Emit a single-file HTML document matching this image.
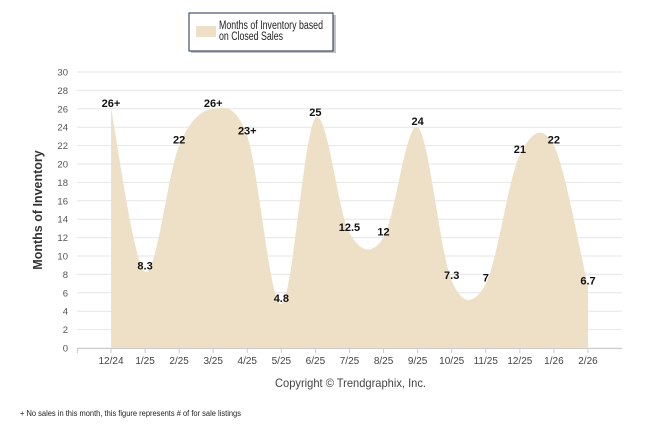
<!DOCTYPE html>
<html><head><meta charset="utf-8"><style>
body{margin:0;width:646px;height:434px;background:#fff;overflow:hidden;font-family:"Liberation Sans",sans-serif}
</style></head><body>
<svg id="c" width="646" height="434" xmlns="http://www.w3.org/2000/svg">
<g>
<rect x="191" y="15" width="145" height="38" fill="#888" opacity="0.5"/>
<rect x="189" y="13" width="144" height="38" fill="#fff" stroke="#1f2f4f" stroke-width="1"/>
<rect x="196" y="26" width="20" height="11" fill="#ede0c6"/>
<text x="219" y="29" font-size="11.5" fill="#222" textLength="104" lengthAdjust="spacingAndGlyphs">Months of Inventory based</text>
<text x="219" y="40" font-size="11.5" fill="#222" textLength="64" lengthAdjust="spacingAndGlyphs">on Closed Sales</text>
</g>
<g id="grid"></g><g id="area"></g><g id="labels"></g><g id="xaxis"></g>
<text transform="translate(42,210) rotate(-90)" text-anchor="middle" font-size="12.5" font-weight="bold" fill="#333">Months of Inventory</text>
<text x="275" y="387" font-size="12" fill="#444" textLength="151" lengthAdjust="spacingAndGlyphs">Copyright © Trendgraphix, Inc.</text>
<text x="20" y="416" font-size="8" fill="#222" textLength="221" lengthAdjust="spacingAndGlyphs">+  No sales in this month, this figure represents # of for sale listings</text>
</svg>
<script>
const categories=["12/24","1/25","2/25","3/25","4/25","5/25","6/25","7/25","8/25","9/25","10/25","11/25","12/25","1/26","2/26"];
const values=[26,8.3,22,26,23,4.8,25,12.5,12,24,7.3,7,21,22,6.7];
const valueLabels=["26+","8.3","22","26+","23+","4.8","25","12.5","12","24","7.3","7","21","22","6.7"];
const yTicks=[0,2,4,6,8,10,12,14,16,18,20,22,24,26,28,30];
const NS="http://www.w3.org/2000/svg";
const x0=111,dx=34.07,yb=348,yt=72,ymax=30;
const X=i=>x0+i*dx, Y=v=>yb-(v/ymax)*(yb-yt);
function el(t,a,p){const e=document.createElementNS(NS,t);for(const k in a)e.setAttribute(k,a[k]);p.appendChild(e);return e;}
const g=document.getElementById('grid');
yTicks.forEach(v=>{
 const l=el('line',{x1:77,x2:622,y1:Y(v),y2:Y(v),stroke:'#e6e6e6','stroke-width':1},g);
 
 
 const t=el('text',{x:68,y:Y(v)+3.5,'text-anchor':'end','font-size':9.5,fill:'#555'},g);
 t.textContent=v;
 
 
});
const pts=values.map((v,i)=>[X(i),Y(v)]);
let d=`M${pts[0][0]},${yb} L${pts[0][0]},${pts[0][1]}`;
const k=0.5;
for(let i=0;i<pts.length-1;i++){
 const p0=pts[i-1]||pts[i],p1=pts[i],p2=pts[i+1],p3=pts[i+2]||p2;
 const c1=[p1[0]+(p2[0]-p0[0])*k/3,p1[1]+(p2[1]-p0[1])*k/3];
 const c2=[p2[0]-(p3[0]-p1[0])*k/3,p2[1]-(p3[1]-p1[1])*k/3];
 d+=` C${c1[0]},${c1[1]} ${c2[0]},${c2[1]} ${p2[0]},${p2[1]}`;
}
d+=` L${pts[pts.length-1][0]},${yb} Z`;
const a=el('path',{d:d,fill:'#ede0c6'},document.getElementById('area'));


const lg=document.getElementById('labels');
values.forEach((v,i)=>{
 const t=el('text',{x:X(i),y:Y(v)-2,'text-anchor':'middle','font-size':11,'font-weight':'bold',fill:'#111'},lg);
 t.textContent=valueLabels[i];
 
 
});
const xg=document.getElementById('xaxis');
const ax=el('line',{x1:77,x2:622,y1:yb+0.5,y2:yb+0.5,stroke:'#ccc'},xg);


const tk=el('line',{x1:77.5,x2:77.5,y1:yb,y2:yb+5,stroke:'#ccc'},xg);


categories.forEach((c,i)=>{
 const m=el('line',{x1:X(i),x2:X(i),y1:yb,y2:yb+5,stroke:'#ccc'},xg);
 
 
 const t=el('text',{x:X(i),y:364,'text-anchor':'middle','font-size':10,fill:'#444'},xg);
 t.textContent=c;
 
 
});
</script>
</body></html>
